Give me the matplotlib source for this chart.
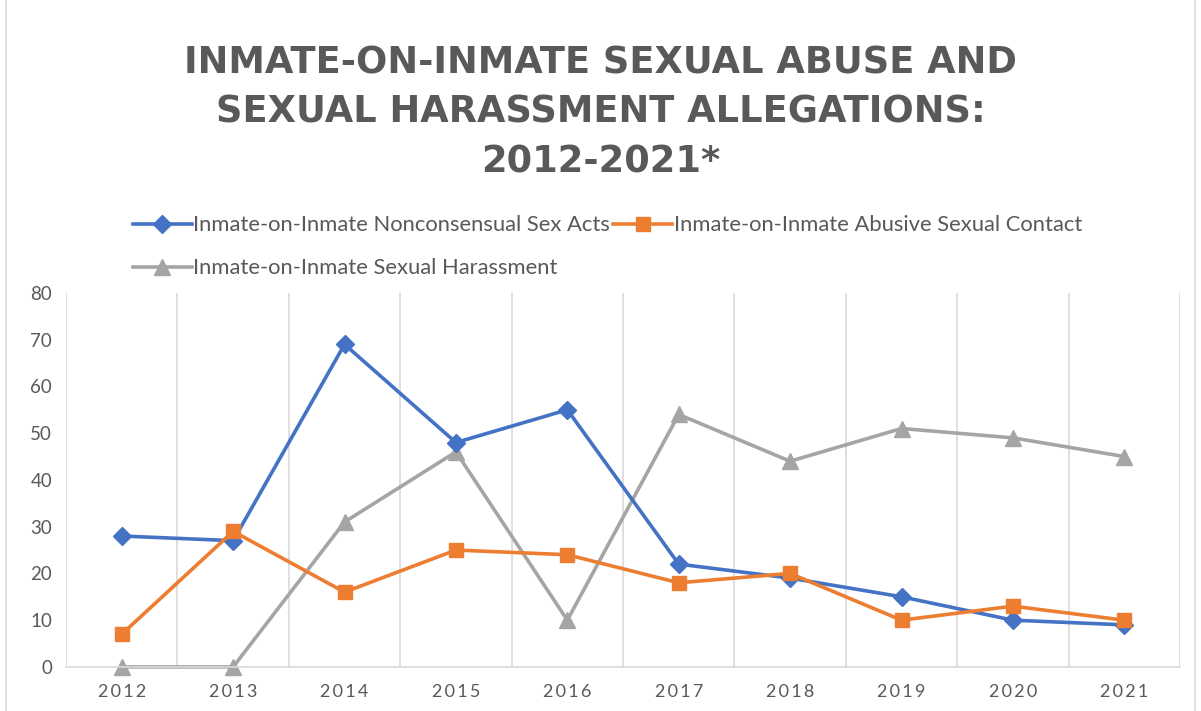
#! /usr/bin/python3
"""Inmate-on-inmate allegations 2012-2021, line chart in the Excel look."""
import matplotlib
matplotlib.use("Agg")
import matplotlib.pyplot as plt
from matplotlib.patches import Rectangle

years = ["2012", "2013", "2014", "2015", "2016", "2017", "2018", "2019", "2020", "2021"]
sex_acts = [28, 27, 69, 48, 55, 22, 19, 15, 10, 9]
abusive_contact = [7, 29, 16, 25, 24, 18, 20, 10, 13, 10]
harassment = [0, 0, 31, 46, 10, 54, 44, 51, 49, 45]
series_names = [
    "Inmate-on-Inmate Nonconsensual Sex Acts",
    "Inmate-on-Inmate Abusive Sexual Contact",
    "Inmate-on-Inmate Sexual Harassment",
]
y_ticks = [0, 10, 20, 30, 40, 50, 60, 70, 80]
title = "INMATE-ON-INMATE SEXUAL ABUSE AND\nSEXUAL HARASSMENT ALLEGATIONS:\n2012-2021*"

TEXT = "#595959"
GRID = "#d9d9d9"

plt.rcParams["font.family"] = ["Lato", "DejaVu Sans"]

fig = plt.figure(figsize=(12.01, 7.11), dpi=100)
ax = fig.add_axes([0.055, 0.062, 0.9275, 0.526])

x = list(range(len(years)))
l1, = ax.plot(x, sex_acts, color="#4472C4", lw=2.6, marker="D", ms=9, zorder=3,
              clip_on=False)
l2, = ax.plot(x, abusive_contact, color="#ED7D31", lw=2.6, marker="s", ms=10.5,
              zorder=3, clip_on=False)
l3, = ax.plot(x, harassment, color="#A5A5A5", lw=2.6, marker="^", ms=11, zorder=2,
              clip_on=False)

ax.set_xlim(-0.5, len(years) - 0.5)
ax.set_ylim(0, 80)
ax.set_yticks(y_ticks)
ax.set_xticks(x)
ax.set_xticklabels(["\u2009".join(y) for y in years])
ax.set_xticks([i - 0.5 for i in range(len(years) + 1)], minor=True)
ax.grid(True, which="minor", axis="x", color=GRID, lw=1.2)
ax.tick_params(which="both", length=0)
ax.tick_params(axis="x", labelsize=13, colors=TEXT, pad=12)
ax.tick_params(axis="y", labelsize=13.5, colors=TEXT, pad=10)
for s in ("top", "right", "left"):
    ax.spines[s].set_visible(False)
ax.spines["bottom"].set_color(GRID)
ax.spines["bottom"].set_linewidth(1.2)

fig.text(0.5, 0.842, title, ha="center", va="center", fontsize=26.5,
         fontweight="bold", color=TEXT, linespacing=1.42,
         family=["DejaVu Sans"])

fig.legend([l1, l3, l2], [series_names[0], series_names[2], series_names[1]],
           ncol=2, loc="center left", bbox_to_anchor=(0.094, 0.653),
           frameon=False, fontsize=15.8, labelcolor=TEXT, handlelength=2.7,
           handletextpad=0.05, columnspacing=0.15, labelspacing=1.05)

fig.patches.append(Rectangle((0.005, -0.01), 0.99, 1.02, transform=fig.transFigure,
                             fill=False, edgecolor=GRID, lw=1.2))

fig.savefig("out.png", dpi=100)
